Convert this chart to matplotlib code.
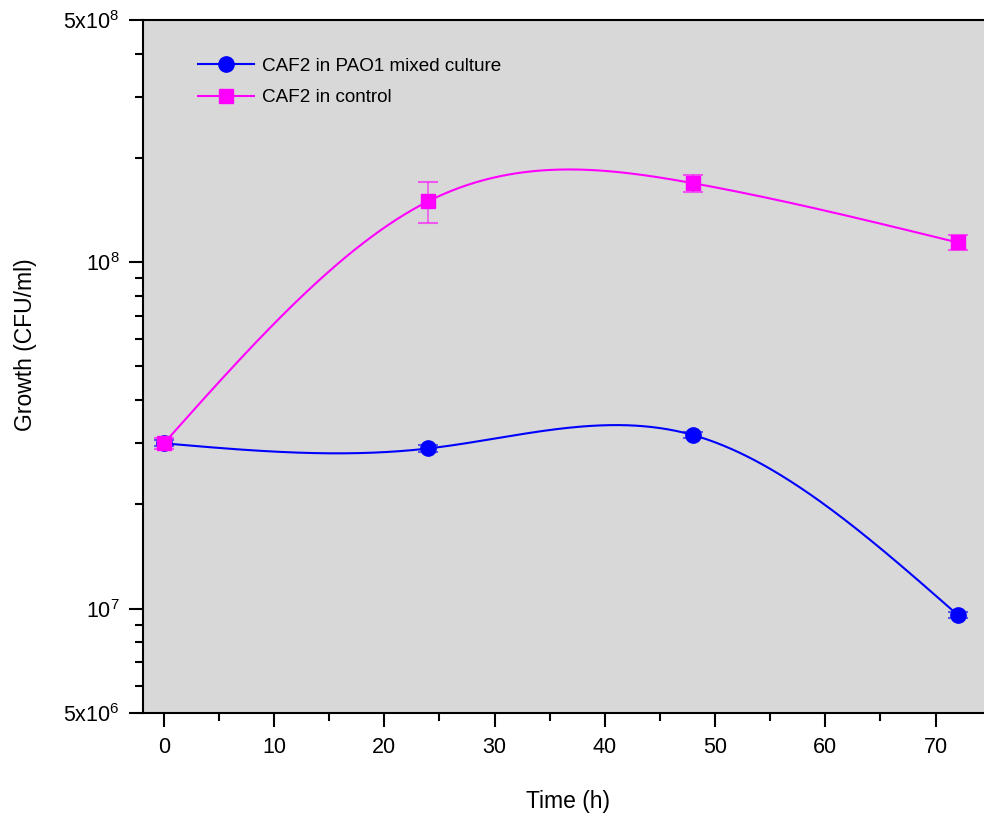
import numpy as np
import matplotlib.pyplot as plt
from matplotlib.ticker import FixedLocator, FixedFormatter, NullFormatter

plt.rcParams['font.family'] = ['Liberation Sans', 'DejaVu Sans']
plt.rcParams['mathtext.fontset'] = 'custom'
plt.rcParams['mathtext.rm'] = 'Liberation Sans'

# Data
time_h = [0, 24, 48, 72]
mixed = [3.0e7, 2.9e7, 3.17e7, 9.6e6]
mixed_err = [6e5, 6e5, 6e5, 2e5]
control = [3.0e7, 1.5e8, 1.69e8, 1.14e8]
control_err = [1.1e6, 2.0e7, 1.0e7, 5.4e6]

y_ticks = [5e6, 1e7, 1e8, 5e8]
y_labels = [r'$\mathregular{5x10^6}$', r'$\mathregular{10^7}$',
            r'$\mathregular{10^8}$', r'$\mathregular{5x10^8}$']


def natural_spline(x, y, xs):
    # natural cubic spline through the data points
    x = np.asarray(x, float)
    y = np.asarray(y, float)
    n = len(x)
    h = np.diff(x)
    A = np.zeros((n, n))
    r = np.zeros(n)
    A[0, 0] = A[-1, -1] = 1
    for i in range(1, n - 1):
        A[i, i - 1] = h[i - 1]
        A[i, i] = 2 * (h[i - 1] + h[i])
        A[i, i + 1] = h[i]
        r[i] = 3 * ((y[i + 1] - y[i]) / h[i] - (y[i] - y[i - 1]) / h[i - 1])
    c = np.linalg.solve(A, r)
    out = np.empty_like(xs)
    for k, xv in enumerate(xs):
        i = min(np.searchsorted(x, xv, side='right') - 1, n - 2)
        i = max(i, 0)
        dx = xv - x[i]
        b = (y[i + 1] - y[i]) / h[i] - h[i] * (2 * c[i] + c[i + 1]) / 3
        d = (c[i + 1] - c[i]) / (3 * h[i])
        out[k] = y[i] + b * dx + c[i] * dx ** 2 + d * dx ** 3
    return out


fig = plt.figure(figsize=(9.84, 8.18), dpi=100)
ax = fig.add_axes([0.1453, 0.1284, 0.8547, 0.8472])
ax.set_facecolor('#d8d8d8')

xs = np.linspace(time_h[0], time_h[-1], 400)
series = [
    (mixed, mixed_err, '#0000ff', 'o', 11, 'CAF2 in PAO1 mixed culture'),
    (control, control_err, '#ff00ff', 's', 10, 'CAF2 in control'),
]
for vals, errs, col, mk, ms, lab in series:
    # spline drawn in log space
    curve = 10 ** natural_spline(time_h, np.log10(vals), xs)
    ax.plot(xs, curve, color=col, lw=1.5, zorder=2)
    ax.errorbar(time_h, vals, yerr=errs, fmt='none', ecolor=col, alpha=0.6,
                elinewidth=1.2, capsize=7, capthick=1.5, zorder=3)
    ax.plot(time_h, vals, linestyle='none', marker=mk, ms=ms, color=col, zorder=4)
    ax.plot([], [], color=col, lw=1.5, marker=mk, ms=ms, label=lab)

ax.set_yscale('log')
ax.set_ylim(5e6, 5e8)
ax.set_xlim(-1.9, 74.4)

ax.yaxis.set_major_locator(FixedLocator(y_ticks))
ax.yaxis.set_major_formatter(FixedFormatter(y_labels))
minors = [m * 10 ** e for e in (6, 7, 8) for m in range(2, 10)
          if 5e6 < m * 10 ** e < 5e8]
ax.yaxis.set_minor_locator(FixedLocator(minors))
ax.yaxis.set_minor_formatter(NullFormatter())

ax.set_xticks(range(0, 71, 10))
ax.set_xticks(range(5, 70, 10), minor=True)

ax.tick_params(which='major', length=10, width=1.5, labelsize=15.5)
ax.tick_params(which='minor', length=5.5, width=1.5)
ax.tick_params(axis='y', which='major', pad=7)
ax.tick_params(axis='x', which='major', pad=7)

for side in ['left', 'bottom', 'top']:
    ax.spines[side].set_linewidth(1.5)
ax.spines['right'].set_visible(False)

ax.set_xlabel('Time (h)', fontsize=16.5)
ax.set_ylabel('Growth (CFU/ml)', fontsize=16.5)
ax.xaxis.set_label_coords(0.505, -0.111)
ax.yaxis.set_label_coords(-0.126, 0.531)

leg = ax.legend(loc='upper left', bbox_to_anchor=(0.045, 0.97), frameon=False,
                fontsize=13.6, handlelength=3.0, handletextpad=0.4, labelspacing=0.75)

fig.savefig('out.png', dpi=100)
